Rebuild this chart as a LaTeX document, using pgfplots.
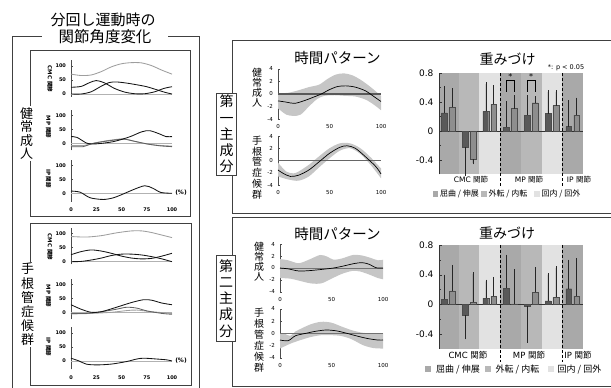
\documentclass[border=0pt]{standalone}
\usepackage{fontspec}
\setmainfont{DejaVu Sans}
\newfontfamily\jp{Noto Sans CJK JP}
\usepackage{pgfplots}
\pgfplotsset{compat=1.18}
\usepgfplotslibrary{fillbetween}
\definecolor{bandA}{HTML}{A9A9A9}
\definecolor{bandB}{HTML}{B8B8B8}
\definecolor{bandC}{HTML}{E2E2E2}
\definecolor{barH}{HTML}{595959}
\definecolor{barC}{HTML}{8E8E8E}
\definecolor{frame}{HTML}{404040}
\definecolor{sd}{HTML}{C6C6C6}
\pgfplotsset{
  leftjoint/.style={scale only axis, width=101pt, xmin=0, xmax=100,
    axis lines*=left, x axis line style={draw=none}, xtick=\empty,
    ytick={0,50,100}, yticklabels={0,50,100}, tick align=inside,
    major tick length=1.5pt, y axis line style={line width=0.5pt, black!70},
    ytick style={black!70, line width=0.4pt},
    yticklabel style={font=\fontsize{5}{6}\selectfont\bfseries, xshift=-1.5pt},
    clip=false},
  ipx/.style={xtick={0,25,50,75,100}, xticklabels={0,25,50,75,100},
    x tick style={draw=none},
    xticklabel style={font=\fontsize{5}{6}\selectfont\bfseries, yshift=-2.5pt}},
  lk/.style={black!92, line width=0.85pt, smooth},
  ld/.style={black!62, line width=0.85pt, smooth},
  ll/.style={black!38, line width=0.85pt, smooth},
  zl/.style={black!30, line width=0.5pt},
  timep/.style={scale only axis, width=103pt, xmin=0, xmax=100, ymin=-4, ymax=4,
    axis lines*=left, x axis line style={draw=none},
    xtick={0,50,100}, xticklabels={0,50,100},
    ytick={-4,-2,0,2,4}, yticklabels={-4,-2,0,2,4},
    tick align=inside, major tick length=1.5pt, x tick style={draw=none},
    y axis line style={line width=0.5pt, black!70}, ytick style={black!70},
    yticklabel style={font=\fontsize{5.5}{6}\selectfont, xshift=-1.5pt},
    xticklabel style={font=\fontsize{5.5}{6}\selectfont, yshift=-2pt},
    clip=false},
  barchart/.style={scale only axis, width=144pt, xmin=-0.45, xmax=6.5,
    ymin=-0.6, ymax=0.8, axis on top, axis lines*=left,
    x axis line style={draw=none}, xtick=\empty,
    ytick={-0.4,0,0.4,0.8}, yticklabels={-0.4,0,0.4,0.8},
    minor ytick={-0.2,0.2,0.6},
    tick align=inside, major tick length=2.5pt, minor tick length=1.5pt,
    y axis line style={line width=0.6pt, black!80}, ytick style={black!80},
    yticklabel style={font=\fontsize{9}{10}\selectfont, xshift=-2pt},
    clip=false},
  hbar/.style={ybar, bar width=0.28, bar shift=0pt, fill=barH, draw=black!70,
    line width=0.3pt, error bars/y explicit,
    error bars/error bar style={black!85, line width=0.5pt},
    error bars/error mark options={black!85, line width=0.5pt, mark size=1.6pt}},
  cbar/.style={hbar, fill=barC},
}
\begin{document}
\begin{tikzpicture}[x=1pt,y=1pt]

% ---------------- left panel frames ----------------
\draw[frame, line width=0.7pt] (41.7,352) -- (12.7,352) -- (12.7,0);
\draw[frame, line width=0.7pt] (168,352) -- (199,352) -- (199,0);
\node[font=\jp\fontsize{15}{16}\selectfont] at (103,368) {分回し運動時の};
\node[font=\jp\fontsize{15.5}{16}\selectfont] at (105,351) {関節角度変化};
\draw[frame, line width=0.7pt] (30,172) rectangle (190.5,338);
\draw[frame, line width=0.7pt] (30,3) rectangle (191,165);
\node[fill=white, inner sep=1pt, align=center, font=\jp\fontsize{13}{13.6}\selectfont] at (26.7,254.5) {健\\常\\成\\人};
\node[fill=white, inner sep=1pt, align=center, font=\jp\fontsize{13}{14.2}\selectfont] at (27.5,83.5) {手\\根\\管\\症\\候\\群};

% joint labels
\node[rotate=-90, font=\fontsize{5.5}{6}\selectfont\bfseries] at (50,309) {CMC {\jp 関節}};
\node[rotate=-90, font=\fontsize{5.5}{6}\selectfont\bfseries] at (48.5,261) {MP {\jp 関節}};
\node[rotate=-90, font=\fontsize{5.5}{6}\selectfont\bfseries] at (48.5,209.5) {IP {\jp 関節}};
\node[rotate=-90, font=\fontsize{5.5}{6}\selectfont\bfseries] at (50,141) {CMC {\jp 関節}};
\node[rotate=-90, font=\fontsize{5.5}{6}\selectfont\bfseries] at (48.5,92) {MP {\jp 関節}};
\node[rotate=-90, font=\fontsize{5.5}{6}\selectfont\bfseries] at (48.5,41) {IP {\jp 関節}};
\node[font=\fontsize{6}{7}\selectfont\bfseries] at (181,195) {(\%)};
\node[font=\fontsize{6}{7}\selectfont\bfseries] at (181,27) {(\%)};

% ---- healthy CMC
\begin{axis}[leftjoint, at={(71pt,291.2pt)}, anchor=south west, height=36.4pt, ymin=-10, ymax=120]
\addplot[zl] coordinates {(0,0) (100,0)};
\addplot[ll] coordinates {(0,71) (10,66) (20,68) (30,80) (40,97) (50,108) (60,112) (70,111) (80,101) (90,85) (100,71)};
\addplot[lk] coordinates {(0,24) (10,27) (18,40) (25,48) (33,40) (43,20) (53,7) (63,1) (73,1) (83,8) (92,20) (100,26)};
\addplot[lk] coordinates {(0,0) (10,0) (20,8) (30,28) (38,41) (45,43) (55,39) (65,33) (75,26) (85,15) (93,6) (100,0)};
\end{axis}
% ---- healthy MP
\begin{axis}[leftjoint, at={(71pt,237.7pt)}, anchor=south west, height=40.6pt, ymin=-25, ymax=120]
\addplot[zl] coordinates {(0,0) (100,0)};
\addplot[ll] coordinates {(0,-8) (12,-8) (22,0) (35,9) (48,15) (55,14) (65,5) (78,-4) (90,-8) (100,-10)};
\addplot[ld] coordinates {(0,-12) (12,-12) (20,-2) (30,5) (42,11) (52,15) (62,8) (75,-2) (88,-9) (100,-12)};
\addplot[lk] coordinates {(0,24) (6,21) (16,0) (25,-2) (42,6) (58,23) (70,41) (78,45) (88,33) (94,24) (100,24)};
\end{axis}
% ---- healthy IP
\begin{axis}[leftjoint, ipx, at={(71pt,186.3pt)}, anchor=south west, height=42pt, ymin=-30, ymax=120]
\addplot[zl] coordinates {(0,0) (100,0)};
\addplot[lk] coordinates {(0,8) (9,4) (19,-16) (32,-22) (42,-16) (52,-2) (61,12) (73,27) (81,18) (89,3) (100,0)};
\end{axis}
% ---- CTS CMC
\begin{axis}[leftjoint, at={(71pt,123.5pt)}, anchor=south west, height=36.4pt, ymin=-10, ymax=120]
\addplot[zl] coordinates {(0,0) (100,0)};
\addplot[ll] coordinates {(0,90) (15,88) (30,93) (45,103) (60,110) (70,110) (80,104) (90,95) (100,86)};
\addplot[lk] coordinates {(0,25) (10,36) (20,42) (30,38) (40,30) (50,20) (60,13) (70,10) (80,12) (90,20) (100,30)};
\addplot[lk] coordinates {(0,0) (10,1) (20,6) (30,13) (40,22) (50,27) (60,27) (70,24) (80,18) (90,10) (100,0)};
\end{axis}
% ---- CTS MP
\begin{axis}[leftjoint, at={(71pt,68.7pt)}, anchor=south west, height=40.6pt, ymin=-25, ymax=120]
\addplot[zl] coordinates {(0,0) (100,0)};
\addplot[ll] coordinates {(0,-6) (20,-4) (40,0) (55,6) (65,8) (80,2) (100,-4)};
\addplot[ld] coordinates {(0,-4) (15,-4) (30,2) (45,11) (55,18) (65,15) (75,5) (90,-4) (100,-7)};
\addplot[lk] coordinates {(0,27) (10,11) (20,0) (30,2) (45,18) (60,35) (72,45) (80,43) (90,33) (100,27)};
\end{axis}
% ---- CTS IP
\begin{axis}[leftjoint, ipx, at={(71pt,18.6pt)}, anchor=south west, height=42pt, ymin=-30, ymax=120]
\addplot[zl] coordinates {(0,0) (100,0)};
\addplot[lk] coordinates {(0,10) (8,0) (15,-11) (25,-14) (40,-11) (55,-2) (65,7) (72,10) (85,7) (95,4) (100,0)};
\end{axis}

% ---------------- right frames ----------------
\draw[frame, line width=0.7pt] (611,348) -- (232,348) -- (232,174.7) -- (611,174.7);
\draw[frame, line width=0.7pt] (611,171) -- (232,171) -- (232,1.3) -- (611,1.3);
\node[draw=frame, line width=0.7pt, fill=white, minimum width=20pt, minimum height=82pt, inner sep=1pt, align=center, font=\jp\fontsize{14}{16.2}\selectfont] at (226.7,254) {第\\一\\主\\成\\分};
\node[draw=frame, line width=0.7pt, fill=white, minimum width=19pt, minimum height=86pt, inner sep=1pt, align=center, font=\jp\fontsize{14}{16.2}\selectfont] at (226,89.7) {第\\二\\主\\成\\分};

% titles
\node[font=\jp\fontsize{14.5}{15}\selectfont] at (337.5,330) {時間パターン};
\node[font=\jp\fontsize{14.5}{15}\selectfont] at (337.5,154) {時間パターン};
\node[font=\jp\fontsize{14}{15}\selectfont] at (507.5,329) {重みづけ};
\node[font=\jp\fontsize{14}{15}\selectfont] at (507,155) {重みづけ};
\node[font=\fontsize{6.5}{7}\selectfont] at (566,320.5) {*: p < 0.05};

% time chart y labels
\node[align=center, font=\jp\fontsize{10}{10}\selectfont] at (257,300) {健\\常\\成\\人};
\node[align=center, font=\jp\fontsize{10}{10.8}\selectfont] at (257,220.5) {手\\根\\管\\症\\候\\群};
\node[align=center, font=\jp\fontsize{10}{10}\selectfont] at (259,126.3) {健\\常\\成\\人};
\node[align=center, font=\jp\fontsize{10}{11}\selectfont] at (259,48) {手\\根\\管\\症\\候\\群};

% ---- PC1 healthy time pattern
\begin{axis}[timep, at={(278pt,269pt)}, anchor=south west, height=50pt]
\addplot[name path=u, draw=none, smooth] coordinates {(0,0.1) (10,0.2) (20,0.6) (30,1.1) (40,1.5) (48,2.4) (56,3.1) (64,3.3) (72,3.0) (80,2.3) (90,1.1) (100,-0.3)};
\addplot[name path=l, draw=none, smooth] coordinates {(0,-2.3) (8,-3.3) (15,-3.5) (22,-3.3) (30,-2.0) (38,-0.8) (45,-0.3) (55,-0.2) (65,-0.3) (75,-0.4) (85,-0.9) (93,-1.7) (100,-2.6)};
\addplot[sd] fill between[of=u and l];
\addplot[black!65, line width=1.3pt] coordinates {(0,0) (100,0)};
\addplot[black, line width=0.7pt, smooth] coordinates {(0,-1.1) (8,-1.3) (16,-1.5) (25,-1.1) (33,-0.6) (42,0) (50,0.7) (58,1.2) (66,1.3) (75,1.1) (85,0.5) (93,-0.4) (100,-1.2)};
\end{axis}
% ---- PC1 CTS time pattern
\begin{axis}[timep, at={(278pt,203pt)}, anchor=south west, height=49pt]
\addplot[name path=u, draw=none, smooth] coordinates {(0,-0.35) (8,-1.8) (15,-2.1) (20,-1.8) (30,-0.7) (40,0.7) (50,2.0) (60,2.8) (70,2.8) (80,2.0) (90,0.5) (100,-1.3)};
\addplot[name path=l, draw=none, smooth] coordinates {(0,-2.6) (10,-3.1) (20,-3.3) (30,-2.6) (40,-1.1) (50,0.35) (60,1.6) (70,2.0) (80,1.06) (90,-0.73) (100,-2.9)};
\addplot[sd] fill between[of=u and l];
\addplot[black!60, line width=0.6pt] coordinates {(0,0) (100,0)};
\addplot[black, line width=0.7pt, smooth] coordinates {(0,-1.55) (5,-2.1) (12,-2.6) (20,-2.4) (30,-1.55) (40,-0.2) (50,1.17) (60,2.15) (67,2.4) (75,2.0) (85,0.6) (95,-1.0) (100,-2.2)};
\end{axis}
% ---- PC2 healthy time pattern
\begin{axis}[timep, at={(280pt,96.3pt)}, anchor=south west, height=47.4pt]
\addplot[name path=u, draw=none, smooth] coordinates {(0,1.5) (8,1.3) (18,0.8) (28,1.4) (39,2.2) (46,1.9) (52,1.4) (60,1.6) (71,2.2) (80,2.1) (88,1.7) (95,1.3) (100,1.4)};
\addplot[name path=l, draw=none, smooth] coordinates {(0,-1.7) (10,-1.8) (20,-2.2) (30,-2.6) (40,-2.6) (50,-1.8) (60,-1.0) (70,-0.5) (78,-0.6) (88,-1.2) (95,-1.7) (100,-1.9)};
\addplot[sd] fill between[of=u and l];
\addplot[black!55, line width=0.5pt] coordinates {(0,0) (100,0)};
\addplot[black, line width=0.7pt, smooth] coordinates {(0,0) (8,-0.15) (18,-0.5) (28,-0.45) (40,-0.25) (52,0) (62,0.35) (72,0.75) (80,0.9) (87,0.6) (93,0.05) (100,0)};
\end{axis}
% ---- PC2 CTS time pattern
\begin{axis}[timep, at={(280pt,30.3pt)}, anchor=south west, height=48.7pt]
\addplot[name path=u, draw=none, smooth] coordinates {(0,0) (5,-0.1) (10,-0.4) (15,0.3) (22,0.9) (30,1.5) (40,1.9) (50,1.75) (60,1.1) (70,0.5) (80,0.1) (90,0) (100,0)};
\addplot[name path=l, draw=none, smooth] coordinates {(0,-2.5) (10,-1.7) (20,-1.1) (30,-0.6) (40,-0.3) (50,-0.3) (60,-0.45) (70,-1.0) (80,-1.9) (90,-2.4) (100,-2.5)};
\addplot[sd] fill between[of=u and l];
\addplot[black!55, line width=0.5pt] coordinates {(0,0) (100,0)};
\addplot[black, line width=0.7pt, smooth] coordinates {(0,-1.1) (8,-1.2) (15,-0.4) (25,0) (35,0.35) (45,0.55) (55,0.4) (65,0) (75,-0.45) (85,-0.85) (95,-1.1) (100,-1.1)};
\end{axis}

% ---- PC1 weights
\begin{axis}[barchart, at={(439pt,213.5pt)}, anchor=south west, height=101.5pt]
\fill[bandA] (axis cs:-0.45,-0.6) rectangle (axis cs:0.5,0.8);
\fill[bandB] (axis cs:0.5,-0.6) rectangle (axis cs:1.5,0.8);
\fill[bandC] (axis cs:1.5,-0.6) rectangle (axis cs:2.5,0.8);
\fill[bandA] (axis cs:2.5,-0.6) rectangle (axis cs:3.5,0.8);
\fill[bandB] (axis cs:3.5,-0.6) rectangle (axis cs:4.5,0.8);
\fill[bandC] (axis cs:4.5,-0.6) rectangle (axis cs:5.5,0.8);
\fill[bandA] (axis cs:5.5,-0.6) rectangle (axis cs:6.5,0.8);
\addplot[black!80, line width=0.6pt] coordinates {(-0.45,0) (6.5,0)};
\addplot[hbar, error bars/y dir=plus] coordinates {(-0.19,0.25) +- (0,0.35) (1.81,0.27) +- (0,0.38) (2.81,0.05) +- (0,0.34) (3.81,0.22) +- (0,0.25) (4.81,0.24) +- (0,0.30) (5.81,0.06) +- (0,0.34)};
\addplot[hbar, error bars/y dir=minus] coordinates {(0.81,-0.22) +- (0,0.38)};
\addplot[cbar, error bars/y dir=plus] coordinates {(0.19,0.33) +- (0,0.24) (2.19,0.37) +- (0,0.24) (3.19,0.31) +- (0,0.16) (4.19,0.39) +- (0,0.07) (5.19,0.35) +- (0,0.19) (6.19,0.22) +- (0,0.22)};
\addplot[cbar, error bars/y dir=minus] coordinates {(1.19,-0.39) +- (0,0.05)};
\draw[black, line width=0.6pt] (axis cs:2.81,0.54) -- (axis cs:2.81,0.70) -- (axis cs:3.19,0.70) -- (axis cs:3.19,0.54);
\draw[black, line width=0.6pt] (axis cs:3.81,0.54) -- (axis cs:3.81,0.70) -- (axis cs:4.19,0.70) -- (axis cs:4.19,0.54);
\node[font=\fontsize{8}{8}\selectfont, inner sep=0pt] at (axis cs:3,0.75) {*};
\node[font=\fontsize{8}{8}\selectfont, inner sep=0pt] at (axis cs:4,0.75) {*};
\draw[black, line width=0.7pt, dash pattern=on 3pt off 2pt] (axis cs:2.5,0.8) -- (axis cs:2.5,-0.78);
\draw[black, line width=0.7pt, dash pattern=on 3pt off 2pt] (axis cs:5.5,0.8) -- (axis cs:5.5,-0.78);
\end{axis}
% ---- PC2 weights
\begin{axis}[barchart, at={(439pt,39.2pt)}, anchor=south west, height=103.8pt]
\fill[bandA] (axis cs:-0.45,-0.6) rectangle (axis cs:0.5,0.8);
\fill[bandB] (axis cs:0.5,-0.6) rectangle (axis cs:1.5,0.8);
\fill[bandC] (axis cs:1.5,-0.6) rectangle (axis cs:2.5,0.8);
\fill[bandA] (axis cs:2.5,-0.6) rectangle (axis cs:3.5,0.8);
\fill[bandB] (axis cs:3.5,-0.6) rectangle (axis cs:4.5,0.8);
\fill[bandC] (axis cs:4.5,-0.6) rectangle (axis cs:5.5,0.8);
\fill[bandA] (axis cs:5.5,-0.6) rectangle (axis cs:6.5,0.8);
\addplot[black!80, line width=0.6pt] coordinates {(-0.45,0) (6.5,0)};
\addplot[hbar, error bars/y dir=plus] coordinates {(-0.19,0.07) +- (0,0.31) (1.81,0.085) +- (0,0.225) (2.81,0.22) +- (0,0.43) (4.81,0.045) +- (0,0.355) (5.81,0.21) +- (0,0.37)};
\addplot[hbar, error bars/y dir=minus] coordinates {(0.81,-0.145) +- (0,0.305) (3.81,-0.02) +- (0,0.48)};
\addplot[cbar, error bars/y dir=plus] coordinates {(0.19,0.18) +- (0,0.33) (1.19,0.03) +- (0,0.38) (2.19,0.11) +- (0,0.24) (3.19,0.005) +- (0,0.445) (4.19,0.165) +- (0,0.315) (5.19,0.095) +- (0,0.395) (6.19,0.11) +- (0,0.49)};
\draw[black, line width=0.7pt, dash pattern=on 3pt off 2pt] (axis cs:2.5,0.8) -- (axis cs:2.5,-0.78);
\draw[black, line width=0.7pt, dash pattern=on 3pt off 2pt] (axis cs:5.5,0.8) -- (axis cs:5.5,-0.78);
\end{axis}

% category labels
\node[font=\fontsize{7.5}{8}\selectfont] at (471,208) {CMC {\jp 関節}};
\node[font=\fontsize{7.5}{8}\selectfont] at (529,208) {MP {\jp 関節}};
\node[font=\fontsize{7.5}{8}\selectfont] at (579,208) {IP {\jp 関節}};
\node[font=\fontsize{8.5}{9}\selectfont] at (468,33) {CMC {\jp 関節}};
\node[font=\fontsize{8.5}{9}\selectfont] at (529,33) {MP {\jp 関節}};
\node[font=\fontsize{8.5}{9}\selectfont] at (578,33) {IP {\jp 関節}};
% legends
\fill[bandA] (432.5,191.3) rectangle (438,196.8);
\node[anchor=west, inner sep=0pt, font=\jp\fontsize{8}{9}\selectfont] at (440,194) {屈曲 / 伸展};
\fill[bandB] (481,191.3) rectangle (486.5,196.8);
\node[anchor=west, inner sep=0pt, font=\jp\fontsize{8}{9}\selectfont] at (488.5,194) {外転 / 内転};
\fill[bandC] (534,191.3) rectangle (539.5,196.8);
\node[anchor=west, inner sep=0pt, font=\jp\fontsize{8}{9}\selectfont] at (541.5,194) {回内 / 回外};

\fill[bandA] (425,15.8) rectangle (431,21.8);
\node[anchor=west, inner sep=0pt, font=\jp\fontsize{9}{10}\selectfont] at (436,18.7) {屈曲 / 伸展};
\fill[bandB] (485,15.8) rectangle (491,21.8);
\node[anchor=west, inner sep=0pt, font=\jp\fontsize{9}{10}\selectfont] at (495.5,18.7) {外転 / 内転};
\fill[bandC] (548,15.8) rectangle (554,21.8);
\node[anchor=west, inner sep=0pt, font=\jp\fontsize{9}{10}\selectfont] at (557.5,18.7) {回内 / 回外};

\pgfresetboundingbox
\path[use as bounding box] (0,0) rectangle (611,388);
\end{tikzpicture}
\end{document}
